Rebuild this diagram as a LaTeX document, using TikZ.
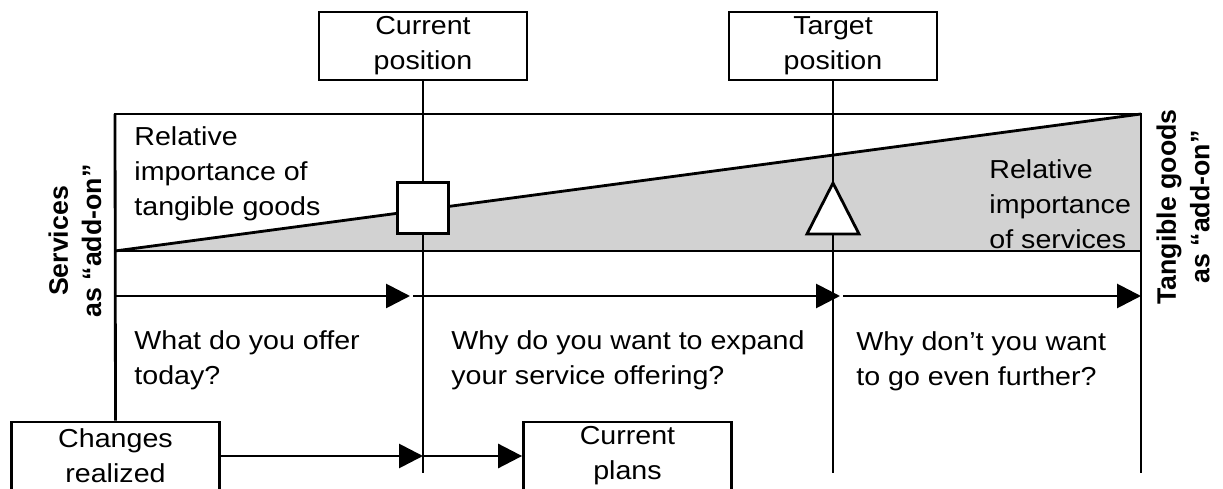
\documentclass[tikz,border=0pt]{standalone}
\usepackage{fontspec}
\setmainfont{Liberation Sans}[FakeStretch=1.1]
\newfontfamily\sidefont{Liberation Sans}
\usepackage{tikz}
\usetikzlibrary{calc,positioning,arrows.meta}

\begin{document}
\begin{tikzpicture}[
		line width=1.6pt,
		every node/.style={font=\fontsize{14.8}{19.9}\selectfont},
		posbox/.style={draw, fill=white, align=center, minimum width=4.16cm, minimum height=1.36cm, inner sep=0pt},
		txt/.style={anchor=north west, align=left, inner sep=0pt},
		side/.style={rotate=90, align=center, inner sep=0pt, font=\sidefont\bfseries\fontsize{15.2}{19}\selectfont},
		flow/.style={-{Triangle[length=0.48cm,width=0.48cm]}}
	]
		\useasboundingbox (0,0) rectangle (24.46,9.76);

		\coordinate (nw) at (2.30,7.48);
		\coordinate (ne) at (22.82,7.48);
		\coordinate (sw) at (2.30,4.74);
		\coordinate (se) at (22.82,4.74);

		\fill[gray!35] (sw) -- (ne) -- (se) -- cycle;
		\draw (nw) rectangle (se);
		\draw (sw) -- (ne);

		\node[posbox] (curpos) at (8.46,8.84) {Current\\position};
		\node[posbox] (tgtpos) at (16.66,8.84) {Target\\position};
		\node[posbox] (chg) at (2.31,0.64) {Changes\\realized};
		\node[posbox] (plans) at (12.55,0.64) {Current\\plans};

		\coordinate (curend) at (8.46,0.30);
		\coordinate (tgtend) at (16.66,0.30);
		\coordinate (rend) at (22.82,0.30);
		\draw (curpos.south) -- (curend);
		\draw (tgtpos.south) -- (tgtend);
		\draw (ne) -- (rend);
		\draw (nw) -- (chg.north);

		\node[draw, fill=white, minimum size=1.02cm, inner sep=0pt] (sq) at (8.46,5.60) {};
		\coordinate (tri) at (16.66,5.59);
		\draw[fill=white] ($(tri)+(-0.52,-0.51)$) -- ($(tri)+(0,0.51)$) -- ($(tri)+(0.52,-0.51)$) -- cycle;

		\coordinate (r0) at (2.30,3.84);
		\coordinate (r1) at (8.20,3.84);
		\coordinate (r2) at (8.26,3.84);
		\coordinate (r3) at (16.80,3.84);
		\coordinate (r4) at (16.86,3.84);
		\coordinate (r5) at (22.82,3.84);
		\draw[flow] (r0) -- (r1);
		\draw[flow] (r2) -- (r3);
		\draw[flow] (r4) -- (r5);

		\draw[flow] (chg.east) -- (chg.east -| curend);
		\draw[flow] (chg.east -| curend) -- (plans.west);

		\node[txt] (tanglbl) at (2.66,7.26) {Relative\\importance of\\tangible goods};
		\node[txt] (servlbl) at (19.76,6.60) {Relative\\importance\\of services};
		\node[txt] (q1) at (2.66,3.18) {What do you offer\\today?};
		\node[txt] (q2) at (9.00,3.18) {Why do you want to expand\\your service offering?};
		\node[txt] (q3) at (17.10,3.16) {Why don’t you want\\to go even further?};

		\node[side] (leftlbl) at (1.50,4.94) {Services\\as “add-on”};
		\node[side] (rightlbl) at (23.66,5.62) {Tangible goods\\as “add-on”};
	\end{tikzpicture}
\end{document}
